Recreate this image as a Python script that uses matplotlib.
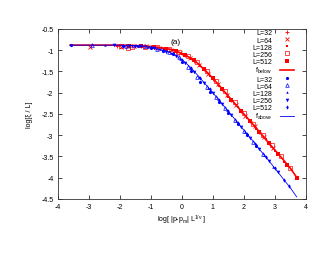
import matplotlib
matplotlib.use("Agg")
import matplotlib.pyplot as plt

plt.rcParams["font.family"] = ["Liberation Sans", "DejaVu Sans"]
plt.rcParams["font.size"] = 5
plt.rcParams["axes.unicode_minus"] = False
plt.rcParams["mathtext.default"] = "regular"

# scaling functions (lines)
fx = [-3.6, -3, -2, -1.5, -1, -0.5, -0.25, 0, 0.25, 0.5, 0.75, 1, 1.25, 1.5, 1.75, 2, 2.25, 2.5, 2.75, 3, 3.25, 3.5, 3.7]
f_below = [-0.88, -0.88, -0.88, -0.89, -0.91, -0.96, -1.0, -1.08, -1.17, -1.30, -1.47, -1.66, -1.87, -2.08, -2.29, -2.50, -2.71, -2.92, -3.14, -3.35, -3.56, -3.78, -3.99]
f_above = [-0.88, -0.88, -0.88, -0.89, -0.93, -1.02, -1.10, -1.22, -1.38, -1.58, -1.79, -2.0, -2.22, -2.44, -2.66, -2.88, -3.10, -3.33, -3.55, -3.78, -4.01, -4.24, -4.45]

# below p_m (red)
b32_x = [-2.1, -1.7, -1.3, -0.9, -0.5, -0.2, 0.1, 0.4, 0.7, 1.0, 1.3, 1.6, 1.9, 2.2, 2.5, 2.8]
b32_y = [-0.90, -0.91, -0.90, -0.92, -0.97, -1.03, -1.12, -1.26, -1.44, -1.67, -1.92, -2.17, -2.42, -2.67, -2.93, -3.19]
b64_x = [-2.95, -1.95, -1.55, -1.15, -0.75, -0.35, -0.05, 0.25, 0.55, 0.85, 1.15, 1.45, 1.75, 2.05, 2.35, 2.65, 2.95]
b64_y = [-0.93, -0.92, -0.91, -0.91, -0.94, -0.99, -1.07, -1.18, -1.34, -1.56, -1.80, -2.05, -2.30, -2.55, -2.79, -3.05, -3.31]
b128_x = [-1.85, -1.45, -1.05, -0.65, -0.3, 0.0, 0.3, 0.6, 0.9, 1.2, 1.5, 1.8, 2.1, 2.4, 2.7, 3.0, 3.3]
b128_y = [-0.90, -0.90, -0.92, -0.95, -1.00, -1.09, -1.21, -1.38, -1.60, -1.85, -2.09, -2.34, -2.59, -2.85, -3.10, -3.36, -3.62]
b256_x = [-1.95, -1.75, -1.6, -1.2, -0.8, -0.4, -0.1, 0.2, 0.5, 0.8, 1.1, 1.4, 1.7, 2.0, 2.3, 2.6, 2.9, 3.2, 3.5]
b256_y = [-0.91, -0.95, -0.93, -0.92, -0.93, -0.98, -1.04, -1.14, -1.28, -1.49, -1.72, -1.97, -2.22, -2.48, -2.73, -2.99, -3.24, -3.50, -3.76]
b512_x = [-1.7, -1.3, -0.9, -0.5, -0.2, 0.1, 0.4, 0.7, 1.0, 1.3, 1.6, 1.9, 2.2, 2.5, 2.8, 3.1, 3.4, 3.7]
b512_y = [-0.90, -0.90, -0.92, -0.96, -1.02, -1.11, -1.24, -1.43, -1.66, -1.91, -2.16, -2.42, -2.67, -2.92, -3.18, -3.43, -3.69, -4.01]

# above p_m (blue)
a32_x = [-3.58, -1.9, -1.4, -1.0, -0.6, -0.3, 0.0, 0.3, 0.6, 0.9, 1.2, 1.5, 1.8, 2.1, 2.4]
a32_y = [-0.88, -0.89, -0.90, -0.95, -1.02, -1.10, -1.27, -1.50, -1.75, -1.98, -2.22, -2.47, -2.73, -2.99, -3.25]
a64_x = [-2.88, -1.8, -1.2, -0.8, -0.4, -0.1, 0.2, 0.5, 0.8, 1.1, 1.4, 1.7, 2.0, 2.3, 2.6]
a64_y = [-0.88, -0.90, -0.91, -0.96, -1.05, -1.17, -1.39, -1.63, -1.86, -2.11, -2.37, -2.63, -2.89, -3.16, -3.43]
a128_x = [-2.48, -1.6, -1.1, -0.7, -0.35, -0.05, 0.25, 0.55, 0.85, 1.15, 1.45, 1.75, 2.05, 2.35, 2.65, 2.95]
a128_y = [-0.88, -0.90, -0.93, -0.98, -1.07, -1.21, -1.41, -1.64, -1.89, -2.14, -2.40, -2.66, -2.93, -3.19, -3.46, -3.74]
a256_x = [-2.18, -1.7, -1.3, -0.9, -0.5, -0.2, 0.1, 0.4, 0.7, 1.0, 1.3, 1.6, 1.9, 2.2, 2.5, 2.8, 3.1]
a256_y = [-0.88, -0.89, -0.90, -0.94, -1.03, -1.14, -1.30, -1.52, -1.76, -2.01, -2.27, -2.53, -2.80, -3.06, -3.33, -3.60, -3.87]
a512_x = [-1.5, -1.0, -0.6, -0.3, 0.0, 0.3, 0.6, 0.9, 1.2, 1.5, 1.8, 2.1, 2.4, 2.7, 3.0, 3.3, 3.45]
a512_y = [-0.89, -0.93, -0.99, -1.06, -1.22, -1.42, -1.66, -1.92, -2.18, -2.44, -2.71, -2.97, -3.24, -3.51, -3.78, -4.06, -4.19]

xticks = [-4, -3, -2, -1, 0, 1, 2, 3, 4]
yticks = [-4.5, -4, -3.5, -3, -2.5, -2, -1.5, -1, -0.5]

red = "#ff0000"
blue = "#0000ff"

fig = plt.figure(figsize=(3.3, 2.55), dpi=100)
ax = fig.add_axes([0.1748, 0.2157, 0.7524, 0.6667])

ax.plot(b32_x, b32_y, "+", color=red, ms=2.5, mew=0.6, label="L=32")
ax.plot(b64_x, b64_y, "x", color=red, ms=2.5, mew=0.6, label="L=64")
ax.plot(b128_x, b128_y, "s", color=red, ms=1.8, mew=0, label="L=128")
ax.plot(b256_x, b256_y, "s", color=red, ms=2.6, mfc="none", mew=0.5, label="L=256")
ax.plot(b512_x, b512_y, "s", color=red, ms=2.6, mew=0, label="L=512")
ax.plot(fx, f_below, "-", color=red, lw=1.2, label="f$_{below}$")
ax.plot(a32_x, a32_y, "o", color=blue, ms=2.3, mew=0, label="L=32")
ax.plot(a64_x, a64_y, "^", color=blue, ms=2.6, mfc="none", mew=0.5, label="L=64")
ax.plot(a128_x, a128_y, "^", color=blue, ms=1.8, mew=0, label="L=128")
ax.plot(a256_x, a256_y, "v", color=blue, ms=2.6, mew=0, label="L=256")
ax.plot(a512_x, a512_y, "d", color=blue, ms=2.2, mew=0, label="L=512")
ax.plot(fx, f_above, "-", color=blue, lw=0.6, label="f$_{above}$")

ax.set_xlim(-4, 4)
ax.set_ylim(-4.5, -0.5)
ax.set_xticks(xticks)
ax.set_yticks(yticks)
ax.set_xticklabels([str(t) for t in xticks])
ax.set_yticklabels([("%g" % t) for t in yticks])
ax.tick_params(direction="in", length=3, width=0.5, top=True, right=True, pad=3, labelsize=5)
for s in ax.spines.values():
    s.set_linewidth(0.6)
    s.set_color("#333333")

ax.set_xlabel("log[ |p-p$_m$| L$^{1/ν}$ ]", fontsize=5, labelpad=2)
ax.set_ylabel("log[ξ / L]", fontsize=5, labelpad=6)
ax.text(-0.2, -0.8, "(a)", fontsize=6, ha="center", va="center")

ax.legend(loc="upper right", bbox_to_anchor=(0.95, 0.997), frameon=False, markerfirst=False,
          numpoints=1, fontsize=5, handlelength=2.0, handletextpad=1.1,
          labelspacing=0.02, borderpad=0, borderaxespad=0)

fig.savefig("out.png", dpi=100)
